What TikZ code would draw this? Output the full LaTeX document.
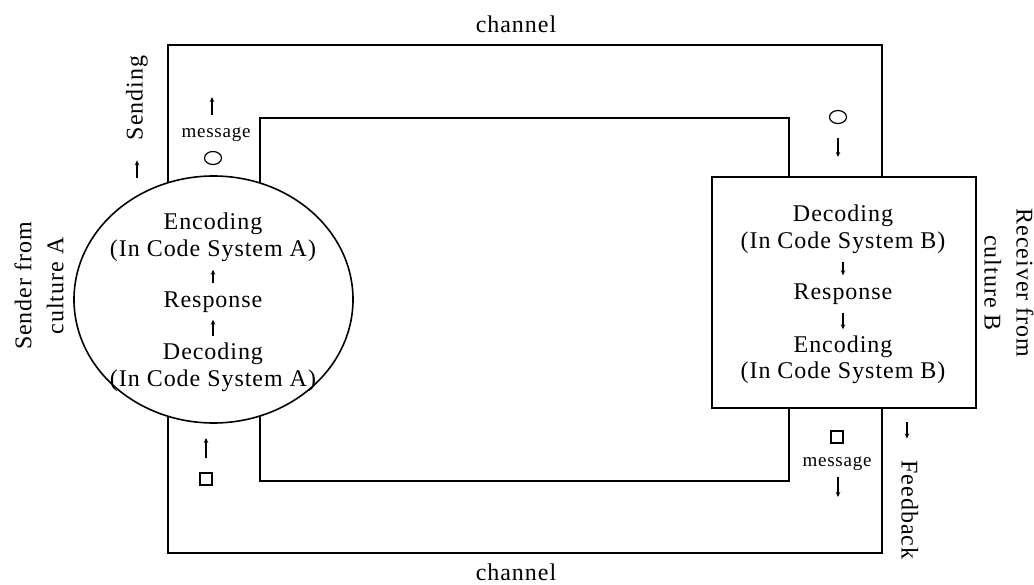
\documentclass[tikz,border=0pt]{standalone}
\usepackage{fontspec}
\setmainfont[LetterSpace=4]{Liberation Serif}
\usetikzlibrary{arrows.meta,shapes.geometric}
\begin{document}
\begin{tikzpicture}[x=1pt,y=-1pt,
  frame/.style={line width=1.6pt},
  lbl/.style={inner sep=0pt, text height=16pt, text depth=5pt, font=\fontsize{24}{28}\selectfont},
  two/.style={inner sep=0pt, align=center, font=\fontsize{24}{32}\selectfont},
  small/.style={inner sep=0pt, text height=14pt, text depth=4pt, font=\fontsize{19}{24}\selectfont},
  arr/.style={line width=1.1pt, -{Stealth[length=5pt,width=4.5pt]}},
  token/.style={draw, line width=1.2pt, ellipse, minimum width=17pt, minimum height=13pt, inner sep=0pt},
  sq/.style={draw, line width=1.2pt, rectangle, minimum size=12pt, inner sep=0pt}
]
\useasboundingbox (0,0) rectangle (1034,585);

% channel loop: outer and inner outline
\draw[frame] (168,45) rectangle (882,553);
\draw[frame] (260,118) rectangle (789,481);

% sender (ellipse) and receiver (box) sit on top of the channel
\node[frame, draw, fill=white, ellipse, minimum width=279pt, minimum height=247pt, inner sep=0pt]
  (sender) at (213.5,299.5) {};
\node[frame, draw, fill=white, rectangle, minimum width=264pt, minimum height=231pt, inner sep=0pt]
  (receiver) at (844,292.5) {};

% channel labels
\node[lbl] (chTop) at (516,27) {channel};
\node[lbl] (chBot) at (516,575) {channel};

% sender side
\node[lbl] (encA) at (213,224) {Encoding};
\node[lbl] (icA1) at (213,251) {(In Code System A)};
\node[lbl] (rA) at (213,302) {Response};
\node[lbl] (dA) at (213,354) {Decoding};
\node[lbl] (icA2) at (213,381) {(In Code System A)};
\draw[arr, shorten <=8pt, shorten >=8pt] (rA.north) -- (icA1.south);
\draw[arr, shorten <=7pt, shorten >=7pt] (dA.north) -- (rA.south);

\node[two, rotate=90] (sideA) at (39,286) {Sender from\\culture A};
\node[lbl, rotate=90] (sendA) at (137,98) {Sending};
\coordinate (sendTail) at (137,178);
\draw[arr, shorten >=20pt] (sendTail) -- (sendA.west);

% outgoing message
\node[small] (msgA) at (216,133) {message};
\node[token] (cA) at (213,158) {};
\coordinate (msgAHead) at (212,97);
\draw[arr, shorten <=9pt] (msgA.north -| msgAHead) -- (msgAHead);

% returning feedback at the sender
\node[sq] (sqA) at (206,479) {};
\coordinate (sqAHead) at (206,438);
\draw[arr, shorten <=14pt] (sqA.north) -- (sqAHead);

% receiver side
\node[lbl] (dB) at (843,216) {Decoding};
\node[lbl] (icB1) at (843,243) {(In Code System B)};
\node[lbl] (rB) at (843,294) {Response};
\node[lbl] (eB) at (843,347) {Encoding};
\node[lbl] (icB2) at (843,373) {(In Code System B)};
\draw[arr, shorten <=8pt, shorten >=8pt] (icB1.south) -- (rB.north);
\draw[arr, shorten <=8pt, shorten >=7pt] (rB.south) -- (eB.north);

\node[two, rotate=-90] (sideB) at (1009,283) {Receiver from\\culture B};

% incoming message
\node[token] (cB) at (838,117) {};
\coordinate (cBHead) at (838,157);
\draw[arr, shorten <=14pt] (cB.south) -- (cBHead);

% feedback message
\node[sq] (sqB) at (837,437) {};
\node[small] (msgB) at (837,461) {message};
\coordinate (msgBHead) at (838,497);
\draw[arr, shorten <=7pt] (msgB.south -| msgBHead) -- (msgBHead);

\node[lbl, rotate=-90] (fb) at (907,510) {Feedback};
\coordinate (fbTail) at (907,422);
\draw[arr, shorten >=22pt] (fbTail) -- (fb.west);
\end{tikzpicture}
\end{document}
